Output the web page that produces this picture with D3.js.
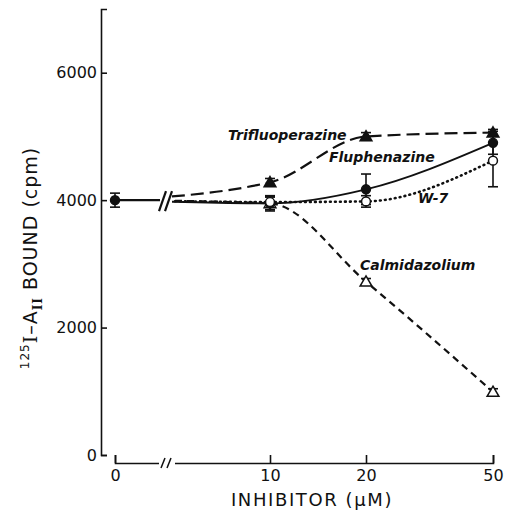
<!DOCTYPE html>
<html>
<head>
<meta charset="utf-8">
<script src="https://cdn.jsdelivr.net/npm/d3@7"></script>
<style>
  body { margin: 0; background: #fff; }
  text { font-family: "DejaVu Sans", sans-serif; fill: #111; }
</style>
</head>
<body>
<div id="chart"></div>
<script>
// ======= DATA =======
const xTicks = [0, 10, 20, 50];
const yTicks = [0, 2000, 4000, 6000];

// control point (no inhibitor)
const controlDose = 0;
const controlValue = 4000;
const controlErr = 110;

// inhibitor doses (uM)
const doses = [10, 20, 50];

const trifluoperazine = [4280, 5000, 5060];
const trifluoperazineErr = [60, 60, 50];

const fluphenazine = [3950, 4170, 4900];
const fluphenazineErr = [120, 240, 180];

const w7 = [3970, 3980, 4620];
const w7Err = [80, 90, 410];

const calmidazolium = [3950, 2720, 990];
const calmidazoliumErr = [100, 50, 50];

const seriesNames = ["Trifluoperazine", "Fluphenazine", "W-7", "Calmidazolium"];

// ======= STYLE / LAYOUT =======
const width = 510, height = 518;
const style = {
  "Trifluoperazine": { dash: "13,6", width: 2.2, cap: "butt", marker: "triangle", fill: "#111" },
  "Fluphenazine":    { dash: null,   width: 1.8, cap: "butt", marker: "circle",   fill: "#111" },
  "W-7":             { dash: "0.8,4.2", width: 2.6, cap: "round", marker: "circle", fill: "#fff" },
  "Calmidazolium":   { dash: "7,5",  width: 2.2, cap: "butt", marker: "triangle", fill: "#fff" }
};
const labelPos = {
  "Trifluoperazine": [228, 140],
  "Fluphenazine":    [329, 162],
  "W-7":             [418, 203],
  "Calmidazolium":   [360, 270]
};
const breakLeft = 160, breakRight = 172;

const series = [
  { name: "Trifluoperazine", values: trifluoperazine, errs: trifluoperazineErr },
  { name: "Fluphenazine", values: fluphenazine, errs: fluphenazineErr },
  { name: "W-7", values: w7, errs: w7Err },
  { name: "Calmidazolium", values: calmidazolium, errs: calmidazoliumErr }
].map(s => ({
  name: s.name,
  points: [{ dose: controlDose, value: controlValue, err: controlErr }]
    .concat(doses.map((d, i) => ({ dose: d, value: s.values[i], err: s.errs[i] })))
}));

// ======= SVG SETUP =======
const svg = d3.select("#chart").append("svg")
  .attr("width", width)
  .attr("height", height);

// broken x axis: piecewise linear positions for 0 | 10, 20, 50
const x = d3.scaleLinear()
  .domain(xTicks)
  .range([115, 270, 366, 493]);

const y = d3.scaleLinear()
  .domain([0, 7000])
  .range([455, 9]);

// ------- Y AXIS -------
const yAxisG = svg.append("g")
  .attr("transform", "translate(101,0)")
  .call(d3.axisLeft(y).tickValues(yTicks).tickSizeInner(-6).tickSizeOuter(-6).tickPadding(4).tickFormat(d3.format("d")));
yAxisG.selectAll("path, line").attr("stroke", "#111").attr("stroke-width", 1.6);
yAxisG.selectAll("text").attr("font-size", 16).attr("font-family", "DejaVu Sans").attr("fill", "#111");

// ------- X AXIS -------
const xAxisG = svg.append("g")
  .attr("transform", "translate(0,463)")
  .call(d3.axisBottom(x).tickValues(xTicks).tickSizeInner(-8).tickSizeOuter(-8).tickPadding(7));
xAxisG.selectAll("path, line").attr("stroke", "#111").attr("stroke-width", 1.6);
xAxisG.selectAll("text").attr("font-size", 16).attr("font-family", "DejaVu Sans").attr("fill", "#111");

// axis break marks
svg.append("rect").attr("x", 159).attr("y", 458).attr("width", 16).attr("height", 10).attr("fill", "#fff");
[161, 167].forEach(bx => {
  svg.append("line")
    .attr("x1", bx).attr("y1", 468).attr("x2", bx + 4).attr("y2", 458)
    .attr("stroke", "#111").attr("stroke-width", 1.5);
});

// ------- AXIS TITLES -------
svg.append("text")
  .attr("x", 312).attr("y", 506)
  .attr("text-anchor", "middle")
  .attr("font-size", 18)
  .attr("letter-spacing", 1.6)
  .text("INHIBITOR (\u03BCM)");

const yTitle = svg.append("text")
  .attr("transform", "translate(37,258) rotate(-90)")
  .attr("text-anchor", "middle")
  .attr("font-size", 19)
  .attr("letter-spacing", 1);
yTitle.append("tspan").attr("font-size", 12).attr("dy", -8).text("125");
yTitle.append("tspan").attr("dy", 8).attr("font-family", "DejaVu Serif").text("I");
yTitle.append("tspan").text("\u2013A");
yTitle.append("tspan").attr("font-family", "DejaVu Serif").attr("font-weight", "bold")
  .attr("font-size", 12).attr("dy", 5).text("II");
yTitle.append("tspan").attr("dy", -5).text(" BOUND (cpm)");

// ------- LINES -------
svg.append("clipPath").attr("id", "after-break")
  .append("rect").attr("x", breakRight).attr("y", 0).attr("width", width).attr("height", height);

const lineGen = d3.line()
  .x(d => x(d.dose))
  .y(d => y(d.value))
  .curve(d3.curveMonotoneX);

svg.append("g").attr("clip-path", "url(#after-break)")
  .selectAll("path")
  .data(series)
  .join("path")
  .attr("d", d => lineGen(d.points))
  .attr("fill", "none")
  .attr("stroke", "#111")
  .attr("stroke-width", d => style[d.name].width)
  .attr("stroke-linecap", d => style[d.name].cap)
  .attr("stroke-dasharray", d => style[d.name].dash);

// control segment up to the break
svg.append("line")
  .attr("x1", x(controlDose)).attr("y1", y(controlValue))
  .attr("x2", breakLeft).attr("y2", y(controlValue))
  .attr("stroke", "#111").attr("stroke-width", 2.4);

// break on the data lines
[159, 165].forEach(bx => {
  svg.append("line")
    .attr("x1", bx).attr("y1", y(controlValue) + 11)
    .attr("x2", bx + 7).attr("y2", y(controlValue) - 9)
    .attr("stroke", "#111").attr("stroke-width", 2.2);
});

// ------- ERROR BARS -------
const allPoints = [{ name: "control", dose: controlDose, value: controlValue, err: controlErr }];
series.forEach(s => s.points.slice(1).forEach(p => allPoints.push(Object.assign({ name: s.name }, p))));

const eb = svg.append("g").attr("stroke", "#111").attr("stroke-width", 1.6);
allPoints.forEach(p => {
  const cx = x(p.dose), y0 = y(p.value - p.err), y1 = y(p.value + p.err);
  eb.append("line").attr("x1", cx).attr("x2", cx).attr("y1", y0).attr("y2", y1);
  eb.append("line").attr("x1", cx - 5).attr("x2", cx + 5).attr("y1", y0).attr("y2", y0);
  eb.append("line").attr("x1", cx - 5).attr("x2", cx + 5).attr("y1", y1).attr("y2", y1);
});

// ------- MARKERS -------
const markerStyle = name => name === "control"
  ? { marker: "circle", fill: "#111" }
  : style[name];

// draw open markers last so they stay visible in the cluster at 10
const order = ["control", "Trifluoperazine", "Calmidazolium", "Fluphenazine", "W-7"];
allPoints.sort((a, b) => order.indexOf(a.name) - order.indexOf(b.name));

svg.append("g").selectAll("path")
  .data(allPoints)
  .join("path")
  .attr("transform", d => `translate(${x(d.dose)},${y(d.value) + (markerStyle(d.name).marker === "triangle" ? 1 : 0)})`)
  .attr("d", d => markerStyle(d.name).marker === "triangle"
    ? d3.symbol(d3.symbolTriangle, 60)()
    : d3.symbol(d3.symbolCircle, 62)())
  .attr("fill", d => markerStyle(d.name).fill)
  .attr("stroke", "#111")
  .attr("stroke-width", 1.5);

// ------- SERIES LABELS -------
svg.append("g").selectAll("text")
  .data(seriesNames)
  .join("text")
  .attr("x", d => labelPos[d][0])
  .attr("y", d => labelPos[d][1])
  .attr("font-size", 14)
  .attr("font-style", "italic")
  .attr("font-weight", 600)
  .text(d => d);
</script>
</body>
</html>
